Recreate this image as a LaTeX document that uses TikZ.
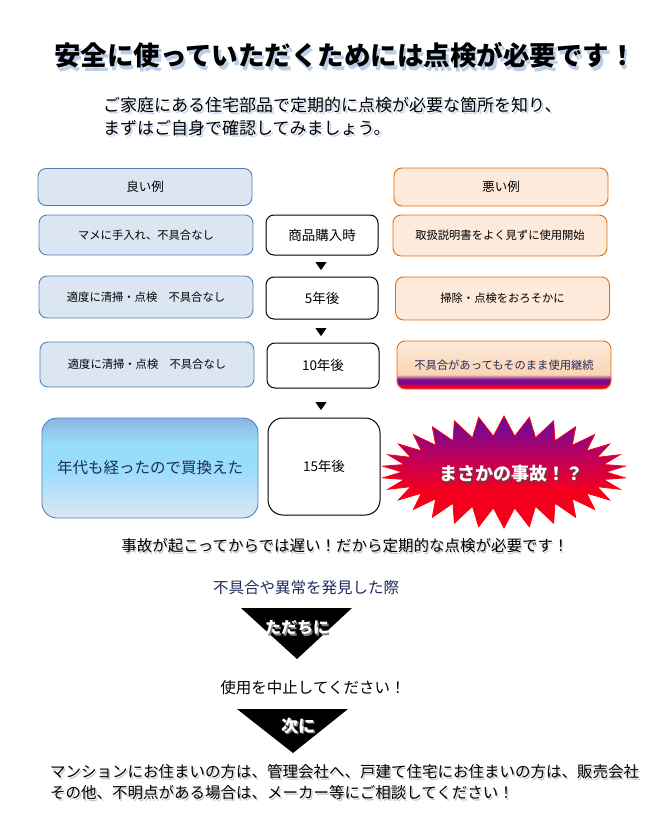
\documentclass[tikz,border=0pt]{standalone}
\usepackage{fontspec}
\setmainfont{Noto Sans CJK JP}
\usetikzlibrary{shapes.geometric,shapes.symbols,positioning}

\definecolor{goodfill}{HTML}{DCE6F2}
\definecolor{gooddraw}{HTML}{4F81BD}
\definecolor{badfill}{HTML}{FDEADA}
\definecolor{badpeach}{HTML}{FBD4B4}
\definecolor{baddraw}{HTML}{E46C0A}
\definecolor{navy}{HTML}{1F2A5C}
\definecolor{glow}{HTML}{9DB9E0}
\definecolor{grayglow}{HTML}{A0A0A0}
\definecolor{burstred}{HTML}{F2001E}
\definecolor{burstmid}{HTML}{C0005A}
\definecolor{burstpurple}{HTML}{6E0A99}
\definecolor{bandpurple}{HTML}{7A0A8A}
\definecolor{bandred}{HTML}{E8003A}
\definecolor{skytop}{HTML}{8DB4E2}
\definecolor{skymid}{HTML}{99DDFC}

\pgfdeclareverticalshading{warnshade}{100bp}{color(0bp)=(bandred); color(25bp)=(bandred); color(28bp)=(bandred); color(31bp)=(bandpurple); color(35bp)=(bandpurple); color(40bp)=(badpeach); color(75bp)=(badfill); color(100bp)=(badfill)}
\pgfdeclareverticalshading{burstshade}{100bp}{color(0bp)=(burstred); color(25bp)=(burstred); color(42bp)=(burstred); color(56bp)=(burstmid); color(72bp)=(burstpurple); color(100bp)=(burstpurple)}
\pgfdeclareverticalshading{skyshade}{100bp}{color(0bp)=(goodfill); color(25bp)=(goodfill); color(50bp)=(skymid); color(62bp)=(skymid); color(75bp)=(skytop); color(100bp)=(skytop)}

\tikzset{
  goodbox/.style={draw=gooddraw, fill=goodfill, rounded corners=8pt, line width=0.9pt, minimum width=214pt, inner sep=0pt, font=\fontsize{11.3}{13}\selectfont},
  badbox/.style={draw=baddraw, fill=badfill, rounded corners=8pt, line width=0.9pt, minimum width=214pt, inner sep=0pt, font=\fontsize{11.3}{13}\selectfont},
  timebox/.style={draw=black, fill=white, rounded corners=8pt, line width=1pt, minimum width=112pt, inner sep=0pt, font=\fontsize{13.5}{15}\selectfont},
  headtxt/.style={font=\fontsize{12.5}{14}\selectfont},
  steptri/.style={isosceles triangle, shape border rotate=-90, isosceles triangle apex angle=70, fill=black, inner sep=0pt, minimum width=10pt, minimum height=8pt},
  bodytxt/.style={font=\fontsize{15.5}{18}\selectfont, inner sep=0pt},
  whitetxt/.style={text=white, font=\bfseries\fontsize{16}{18}\selectfont, inner sep=0pt}
}

\begin{document}
\begin{tikzpicture}[x=1pt,y=1pt,yscale=-1,xscale=1]
        \useasboundingbox (0,0) rectangle (662,840);
        %Title
        \node[text=glow, opacity=0.7, font=\bfseries\fontsize{26.5}{28}\selectfont] at (347.5,59) {安全に使っていただくためには点検が必要です！};
        \node[font=\bfseries\fontsize{26.5}{28}\selectfont] (title) at (345,55) {安全に使っていただくためには点検が必要です！};
        %Subtitle
        \node[text=glow, opacity=0.6, anchor=west, align=left, font=\fontsize{17}{23}\selectfont, inner sep=0pt] at (105,118) {ご家庭にある住宅部品で定期的に点検が必要な箇所を知り、\\まずはご自身で確認してみましょう。};
        \node[anchor=west, align=left, font=\fontsize{17}{23}\selectfont, inner sep=0pt] (sub) at (103,116) {ご家庭にある住宅部品で定期的に点検が必要な箇所を知り、\\まずはご自身で確認してみましょう。};

        %Headers
        \node[goodbox, minimum height=37pt, headtxt] (goodhead) at (145,187) {良い例};
        \node[badbox, minimum height=38pt, headtxt] (badhead) at (501,187) {悪い例};

        %Row 1
        \node[goodbox, minimum height=40pt] (good1) at (146,235) {マメに手入れ、不具合なし};
        \node[timebox, minimum height=40pt] (time1) at (322,235) {商品購入時};
        \node[badbox, minimum height=41pt] (bad1) at (500,235.5) {取扱説明書をよく見ずに使用開始};
        \node[steptri] (tri1) at (321,265) {};

        %Row 2
        \node[goodbox, minimum height=42pt] (good2) at (146,297) {適度に清掃・点検　不具合なし};
        \node[timebox, minimum height=42pt] (time2) at (322,298) {5年後};
        \node[badbox, minimum height=43pt] (bad2) at (502.5,298.5) {掃除・点検をおろそかに};
        \node[steptri] (tri2) at (321,331) {};

        %Row 3
        \node[goodbox, minimum height=45pt] (good3) at (147,364.5) {適度に清掃・点検　不具合なし};
        \node[timebox, minimum height=45pt] (time3) at (323,365.5) {10年後};
        \node[badbox, shading=warnshade, minimum height=48pt, text=navy] (bad3) at (504,365) {不具合があってもそのまま使用継続};
        \node[steptri] (tri3) at (321,405) {};

        %Row 4
        \node[draw=gooddraw, shading=skyshade, rounded corners=15pt, line width=0.9pt, minimum width=216pt, minimum height=100pt, inner sep=0pt, text=navy, font=\fontsize{15.5}{18}\selectfont] (good4) at (150,468) {年代も経ったので買換えた};
        \node[timebox, rounded corners=15pt, minimum height=97pt] (time4) at (324,466.5) {15年後};
        \node[starburst, starburst points=30, starburst point height=20pt, random starburst=0, draw=red, line width=0.8pt, shading=burstshade, minimum width=244pt, minimum height=112pt, inner sep=0pt] (burst) at (504,472) {};
        \node[text=black!70, opacity=0.6, font=\bfseries\fontsize{18}{20}\selectfont] at (513,476) {まさかの事故！？};
        \node[text=white, font=\bfseries\fontsize{18}{20}\selectfont] (bursttxt) at (511,474) {まさかの事故！？};

        %Message
        \node[bodytxt, text=grayglow, opacity=0.6] at (346,548) {事故が起こってからでは遅い！だから定期的な点検が必要です！};
        \node[bodytxt] (late) at (345,546) {事故が起こってからでは遅い！だから定期的な点検が必要です！};

        %Steps
        \node[bodytxt, text=navy] (found) at (306,588) {不具合や異常を発見した際};
        \coordinate (t1l) at (241,608);
        \coordinate (t1r) at (352,608);
        \coordinate (t1a) at (297,659);
        \fill (t1l) -- (t1r) -- (t1a) -- cycle;
        \node[whitetxt, text=gray] at (298.5,629.5) {ただちに};
        \node[whitetxt] (now) at (297,628) {ただちに};

        \node[bodytxt] (stop) at (313,688) {使用を中止してください！};
        \coordinate (t2l) at (237,709);
        \coordinate (t2r) at (348,709);
        \coordinate (t2a) at (293,753);
        \fill (t2l) -- (t2r) -- (t2a) -- cycle;
        \node[whitetxt, text=gray, font=\bfseries\fontsize{17}{18}\selectfont] at (299.5,727.5) {次に};
        \node[whitetxt, font=\bfseries\fontsize{17}{18}\selectfont] (next) at (298,726) {次に};

        %Bottom text
        \node[bodytxt, anchor=west, align=left, text=grayglow, opacity=0.6, font=\fontsize{15.5}{21}\selectfont] at (51.5,784) {マンションにお住まいの方は、管理会社へ、戸建て住宅にお住まいの方は、販売会社\\その他、不明点がある場合は、メーカー等にご相談してください！};
        \node[bodytxt, anchor=west, align=left, font=\fontsize{15.5}{21}\selectfont] (contact) at (50,782) {マンションにお住まいの方は、管理会社へ、戸建て住宅にお住まいの方は、販売会社\\その他、不明点がある場合は、メーカー等にご相談してください！};
    \end{tikzpicture}
\end{document}
